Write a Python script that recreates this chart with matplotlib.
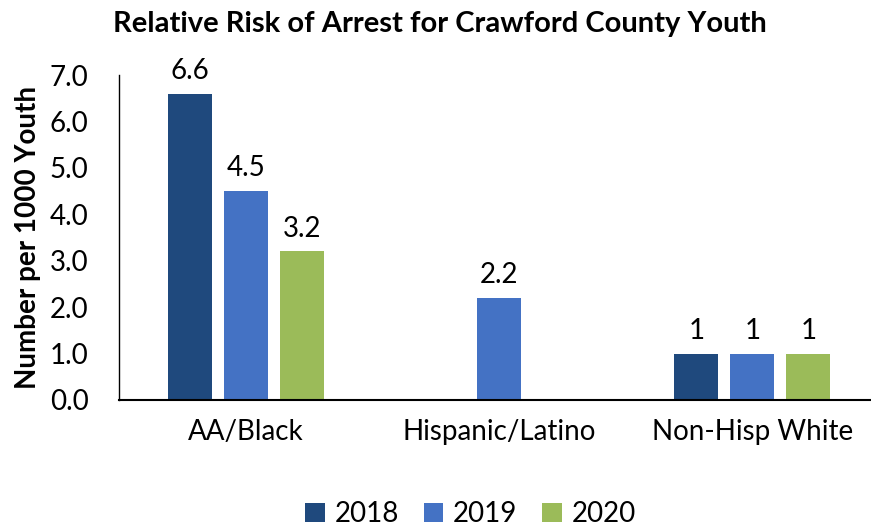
import numpy as np
import matplotlib.pyplot as plt

plt.rcParams['font.family'] = ['Lato', 'DejaVu Sans']

categories = ['AA/Black', 'Hispanic/Latino', 'Non-Hisp White']
years = ['2018', '2019', '2020']
values = {
    '2018': [6.6, None, 1],
    '2019': [4.5, 2.2, 1],
    '2020': [3.2, None, 1],
}
labels = {
    '2018': ['6.6', '', '1'],
    '2019': ['4.5', '2.2', '1'],
    '2020': ['3.2', '', '1'],
}
colors = ['#1F497D', '#4472C4', '#9BBB59']

fig = plt.figure(figsize=(8.71, 5.29), dpi=100)
ax = fig.add_axes([119 / 871, 1 - 400 / 529, 760 / 871, 325 / 529])

x = np.arange(len(categories))
width = 0.174
pitch = 0.221
for i, yr in enumerate(years):
    xs = [xi + (i - 1) * pitch for xi, v in zip(x, values[yr]) if v is not None]
    vs = [v for v in values[yr] if v is not None]
    labs = [l for l, v in zip(labels[yr], values[yr]) if v is not None]
    bars = ax.bar(xs, vs, width, color=colors[i], label=yr)
    ax.bar_label(bars, labels=labs, padding=7, fontsize=20)

ax.set_xlim(-0.5, 2.5)
ax.set_ylim(0, 7)
ax.set_yticks(np.arange(0, 7.1, 1.0))
ax.set_yticklabels([f'{t:.1f}' for t in np.arange(0, 7.1, 1.0)], fontsize=20)
ax.set_xticks(x)
ax.set_xticklabels(categories, fontsize=20)
ax.tick_params(axis='both', length=0)
ax.tick_params(axis='x', pad=14)
ax.tick_params(axis='y', pad=22)
for s in ['top', 'right']:
    ax.spines[s].set_visible(False)
ax.spines['left'].set_color('#000000')
ax.spines['left'].set_linewidth(1)
ax.spines['bottom'].set_linewidth(1.5)

ax.set_ylabel('Number per 1000 Youth', fontsize=20, fontweight='bold', labelpad=6)
fig.text(0.505, 0.955, 'Relative Risk of Arrest for Crawford County Youth',
         ha='center', va='center', fontsize=21, fontweight='bold')

fig.legend(loc='center', bbox_to_anchor=(0.54, 0.028), ncol=3, frameon=False,
           fontsize=20, handlelength=0.7, handleheight=0.7, columnspacing=0.9,
           handletextpad=0.35)

fig.savefig('out.png', dpi=100)
